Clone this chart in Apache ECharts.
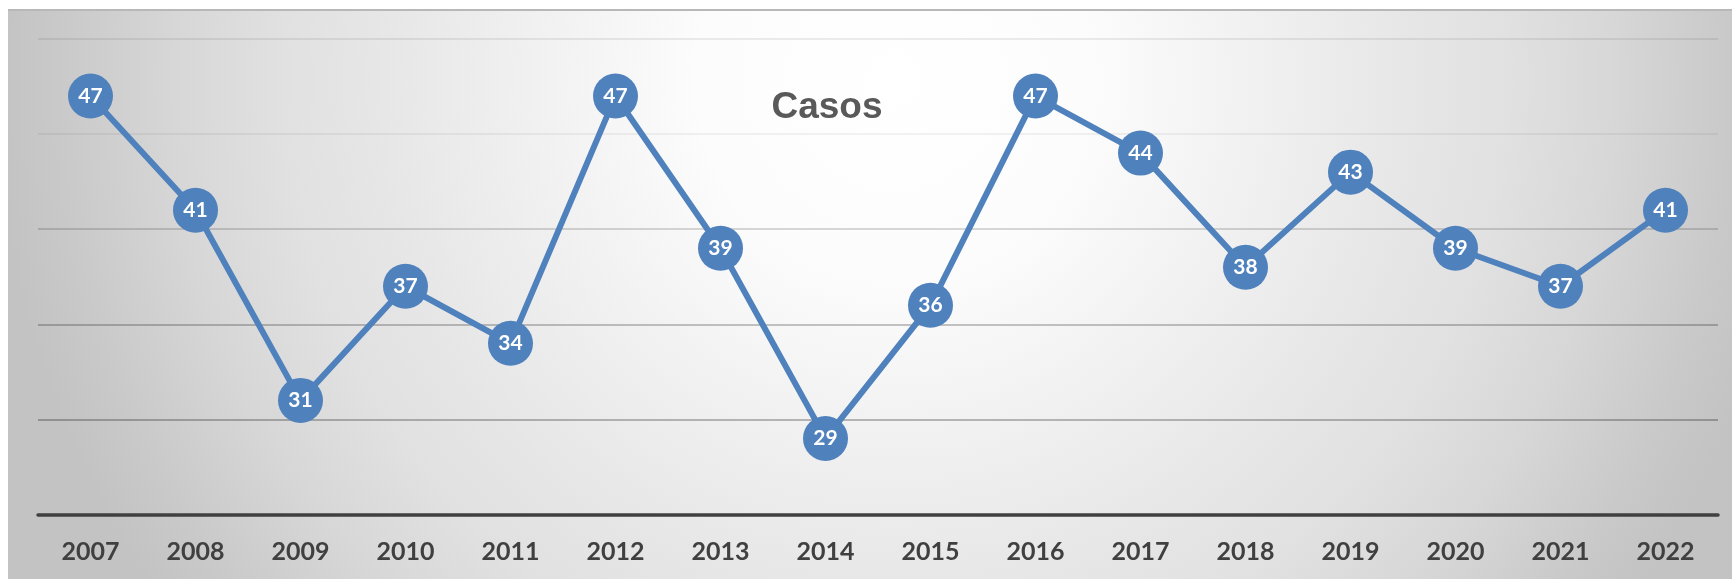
<!DOCTYPE html>
<html>
<head>
<meta charset="utf-8">
<style>
  html, body { margin: 0; padding: 0; background: #ffffff; }
  #chart { width: 1732px; height: 579px; }
</style>
<script src="https://cdn.jsdelivr.net/npm/echarts@6/dist/echarts.min.js"></script>
</head>
<body>
<div id="chart"></div>
<script>
// Yearly case counts
const years = ['2007', '2008', '2009', '2010', '2011', '2012', '2013', '2014',
               '2015', '2016', '2017', '2018', '2019', '2020', '2021', '2022'];
const casos = [47, 41, 31, 37, 34, 47, 39, 29, 36, 47, 44, 38, 43, 39, 37, 41];
const titleText = 'Casos';

const W = 1732, H = 579;
const chart = echarts.init(document.getElementById('chart'), null, { renderer: 'canvas' });

// Soft grey radial backdrop, brightest near the upper middle
const backdrop = new echarts.graphic.RadialGradient(895, 80, 900, [
  { offset: 0.00, color: '#ffffff' },
  { offset: 0.22, color: '#fcfcfc' },
  { offset: 0.30, color: '#f7f7f7' },
  { offset: 0.58, color: '#e6e6e6' },
  { offset: 0.68, color: '#e1e1e1' },
  { offset: 0.80, color: '#d7d7d7' },
  { offset: 0.93, color: '#c9c9c9' },
  { offset: 1.00, color: '#c3c3c3' }
], true);

const option = {
  animation: false,
  backgroundColor: '#ffffff',
  graphic: [
    { type: 'rect', z: -10, silent: true,
      shape: { x: 8, y: 9, width: W - 8, height: H - 9 },
      style: { fill: backdrop } },
    { type: 'line', z: -9, silent: true,
      shape: { x1: 8, y1: 10, x2: W, y2: 10 },
      style: { stroke: '#b8b8b8', lineWidth: 2 } }
  ],
  title: {
    text: titleText,
    left: 822,
    top: 84,
    textAlign: 'center',
    textStyle: {
      fontFamily: 'Liberation Sans',
      fontWeight: 'bold',
      fontSize: 37,
      color: '#595959'
    }
  },
  grid: { left: 38, right: 14, top: 39, bottom: 64.5 },
  xAxis: {
    type: 'category',
    data: years,
    boundaryGap: true,
    axisLine: { show: true, lineStyle: { color: '#404040', width: 3.5 } },
    axisTick: { show: false },
    axisLabel: {
      margin: 25,
      fontFamily: 'Lato',
      fontWeight: 'bold',
      fontSize: 25,
      color: '#404040'
    },
    splitLine: { show: false }
  },
  yAxis: {
    type: 'value',
    min: 25,
    max: 50,
    interval: 5,
    axisLine: { show: false },
    axisTick: { show: false },
    axisLabel: { show: false },
    splitLine: {
      show: true,
      lineStyle: {
        width: 1.5,
        color: ['rgba(0,0,0,0)', 'rgba(0,0,0,0.34)', 'rgba(0,0,0,0.3)',
                'rgba(0,0,0,0.2)', 'rgba(0,0,0,0.07)', 'rgba(0,0,0,0.1)']
      }
    }
  },
  series: [{
    type: 'line',
    data: casos,
    symbol: 'circle',
    symbolSize: 45,
    showAllSymbol: true,
    lineStyle: { color: '#4f81bd', width: 6 },
    itemStyle: { color: '#4f81bd' },
    label: {
      show: true,
      position: 'inside',
      fontFamily: 'Lato',
      fontWeight: 'bold',
      fontSize: 21,
      color: '#ffffff'
    }
  }]
};

chart.setOption(option);
</script>
</body>
</html>
